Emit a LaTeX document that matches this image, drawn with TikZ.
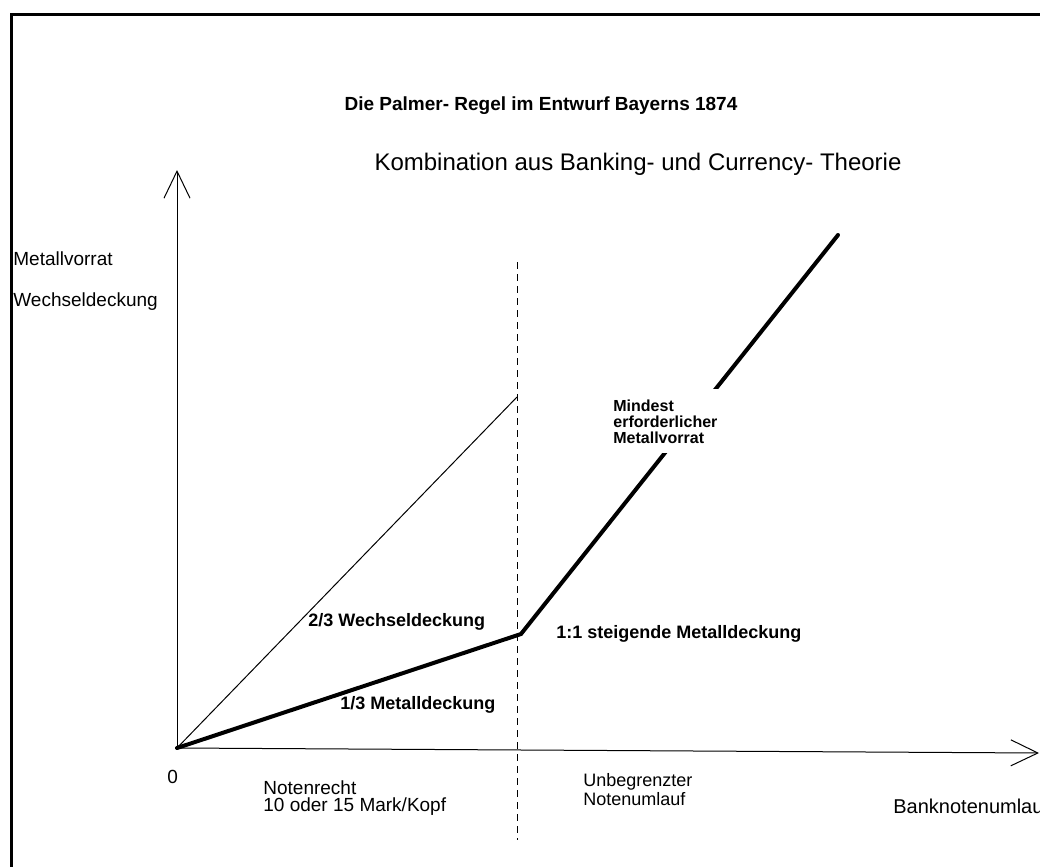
\documentclass[tikz,border=0pt]{standalone}
\usepackage{fontspec}
\setmainfont{Liberation Sans}
\usepackage{tikz}
\usetikzlibrary{arrows.meta,positioning}

\tikzset{
  axisLine/.style={line width=0.5pt, -{Straight Barb[length=13.5pt,width=13pt,line width=0.5pt]}},
  curveThick/.style={line width=2pt, line cap=round, line join=miter},
  labelText/.style={inner sep=0pt, anchor=base west, font=\fontsize{9.5}{8.5}\selectfont, align=left},
  boldText/.style={inner sep=0pt, anchor=base west, font=\fontsize{9}{8}\selectfont\bfseries}
}

\begin{document}
\begin{tikzpicture}[x=0.5pt,y=-0.5pt]
  \useasboundingbox (0,0) rectangle (1040,867);
  \fill[white] (0,0) rectangle (1040,867);

  % frame (runs off at right and bottom)
  \draw[line width=1.5pt] (11,1100) -- (11,14) -- (1100,14);

  \coordinate (origin) at (177,748);
  \coordinate (yTip) at (177,170);
  \coordinate (xTip) at (1039,753);
  \coordinate (kink) at (521,634);
  \coordinate (curveEnd) at (838,235);
  \coordinate (billsEnd) at (517,397);
  \coordinate (limitTop) at (517,262);
  \coordinate (limitBot) at (517,840);

  % axes
  \draw[axisLine] (origin) -- (yTip);
  \draw[axisLine] (origin) -- (xTip);

  % limit of the Notenrecht
  \draw[line width=0.5pt, dash pattern=on 3.5pt off 2.5pt] (limitTop) -- (limitBot);

  \draw[line width=0.5pt] (origin) -- (billsEnd);
  \draw[curveThick] (origin) -- (kink) -- (curveEnd);

  % titles
  \node[inner sep=0pt, anchor=base, font=\fontsize{9.5}{11}\selectfont\bfseries] (title) at (541,110)
    {Die Palmer- Regel im Entwurf Bayerns 1874};
  \node[inner sep=0pt, anchor=base, font=\fontsize{12}{14}\selectfont] (subtitle) at (638,170)
    {Kombination aus Banking- und Currency- Theorie};

  % axis labels
  \node[labelText] (yLabelA) at (13,265) {Metallvorrat};
  \node[labelText] (yLabelB) at (13,306) {Wechseldeckung};
  \node[labelText] (zero) at (167,783) {0};
  \node[labelText, font=\fontsize{10}{10}\selectfont] (xLabel) at (893,813) {Banknotenumlauf};

  \node[labelText] (notenrecht) at (263,811) {Notenrecht\\10 oder 15 Mark/Kopf};
  \node[labelText, font=\fontsize{9}{8}\selectfont] (unbegrenzt) at (583,805) {Unbegrenzter\\Notenumlauf};

  % curve labels
  \node[boldText] (wechsel) at (308,626) {2/3 Wechseldeckung};
  \node[boldText] (metallA) at (340,709) {1/3 Metalldeckung};
  \node[boldText] (metallB) at (556,638) {1:1 steigende Metalldeckung};
  \node[boldText, fill=white, inner xsep=3pt, inner ysep=5pt, font=\fontsize{8}{8}\selectfont\bfseries, align=left] (mindest) at (607,443)
    {Mindest\\erforderlicher\\Metallvorrat};

\end{tikzpicture}
\end{document}
